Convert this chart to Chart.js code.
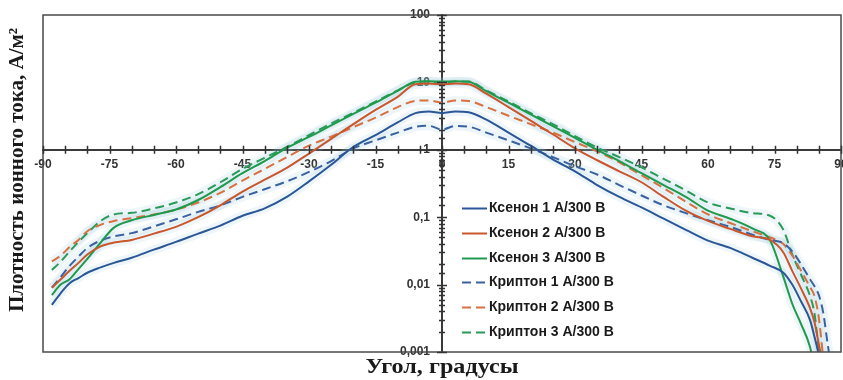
<!DOCTYPE html>
<html>
<head>
<meta charset="utf-8">
<script src="https://cdn.jsdelivr.net/npm/chart.js@4.4.1/dist/chart.umd.min.js"></script>
<style>
  html, body { margin: 0; padding: 0; background: #fff; }
</style>
</head>
<body>
<canvas id="ionCurrentChart" width="843" height="380"></canvas>
<script>
const angles = [-88, -86, -84, -82, -80, -77, -74, -70, -65, -60, -55, -50, -45, -40, -35, -30, -25, -20, -15, -10, -6, -3, 0,
  3, 6, 10, 15, 20, 25, 30, 35, 40, 45, 50, 55, 60, 65, 70, 74, 77, 79, 81, 83, 84, 85, 86, 87, 88];

const xenon1 = [0.005, 0.0075, 0.0105, 0.0125, 0.015, 0.018, 0.021, 0.025, 0.033, 0.043, 0.057, 0.075, 0.105, 0.135, 0.2, 0.34, 0.6, 1.1, 1.65, 2.55, 3.5, 3.7, 3.5,
  3.7, 3.6, 2.8, 1.8, 1.15, 0.72, 0.48, 0.3, 0.2, 0.14, 0.095, 0.065, 0.045, 0.035, 0.025, 0.019, 0.015, 0.01, 0.0056, 0.003, 0.0017, 0.0009, 0.0004, null, null];
const xenon2 = [0.009, 0.012, 0.016, 0.021, 0.028, 0.037, 0.042, 0.046, 0.057, 0.072, 0.1, 0.15, 0.24, 0.36, 0.54, 0.88, 1.45, 2.4, 3.9, 6.1, 9.4, 9.6, 9.3,
  9.6, 9.4, 6.8, 4.3, 2.7, 1.7, 1.05, 0.7, 0.48, 0.33, 0.2, 0.125, 0.088, 0.067, 0.052, 0.046, 0.03, 0.016, 0.0087, 0.0045, 0.0028, 0.0013, 0.0006, null, null];
const xenon3 = [0.007, 0.01, 0.012, 0.017, 0.024, 0.042, 0.07, 0.09, 0.108, 0.13, 0.18, 0.28, 0.45, 0.68, 1.07, 1.55, 2.3, 3.4, 5.0, 7.5, 10.2, 10.4, 10.3,
  10.4, 10.2, 7.4, 5.0, 3.35, 2.25, 1.5, 1.0, 0.68, 0.45, 0.3, 0.2, 0.125, 0.095, 0.068, 0.045, 0.013, 0.0052, 0.0026, 0.0012, 0.0006, null, null, null, null];
const krypton1 = [0.009, 0.013, 0.019, 0.026, 0.035, 0.045, 0.052, 0.058, 0.073, 0.093, 0.12, 0.15, 0.2, 0.26, 0.34, 0.47, 0.68, 1.05, 1.38, 1.8, 2.2, 2.27, 2.0,
  2.25, 2.2, 1.8, 1.38, 1.05, 0.78, 0.57, 0.43, 0.3, 0.21, 0.15, 0.115, 0.09, 0.072, 0.055, 0.046, 0.041, 0.031, 0.02, 0.012, 0.0095, 0.007, 0.0038, 0.0013, 0.0005];
const krypton2 = [0.022, 0.027, 0.036, 0.046, 0.062, 0.077, 0.088, 0.097, 0.11, 0.13, 0.165, 0.23, 0.35, 0.52, 0.78, 1.15, 1.57, 2.17, 3.0, 4.3, 5.3, 5.4, 5.0,
  5.4, 5.3, 4.3, 3.2, 2.4, 1.8, 1.3, 0.95, 0.65, 0.42, 0.27, 0.17, 0.11, 0.082, 0.062, 0.05, 0.04, 0.027, 0.016, 0.0092, 0.0068, 0.0032, 0.0008, null, null];
const krypton3 = [0.0165, 0.022, 0.031, 0.043, 0.058, 0.088, 0.11, 0.116, 0.135, 0.165, 0.22, 0.33, 0.52, 0.76, 1.1, 1.65, 2.45, 3.55, 5.2, 7.6, 10.0, 10.3, 10.0,
  10.3, 10.3, 7.6, 5.2, 3.5, 2.4, 1.6, 1.08, 0.78, 0.55, 0.37, 0.25, 0.165, 0.135, 0.115, 0.105, 0.065, 0.028, 0.014, 0.0068, 0.0038, 0.0011, 0.0005, null, null];

const seriesLabels = ['Ксенон 1 А/300 В', 'Ксенон 2 А/300 В', 'Ксенон 3 А/300 В',
  'Криптон 1 А/300 В', 'Криптон 2 А/300 В', 'Криптон 3 А/300 В'];
const xTickLabels = [-90, -75, -60, -45, -30, -15, 0, 15, 30, 45, 60, 75, 90];
const yTickLabels = [0.001, 0.01, 0.1, 1, 10, 100];

const xTitle = 'Угол, градусы';
const yTitle = 'Плотность ионного тока, А/м²';

const seriesData = [xenon1, xenon2, xenon3, krypton1, krypton2, krypton3];
const seriesColors = ['#2b5797', '#c9562c', '#1f9a4c', '#3a62a0', '#d8703f', '#2a9a58'];
const dashed = [false, false, false, true, true, true];

function toPoints(values) {
  return angles.map((a, i) => ({ x: a, y: values[i] }));
}

const mainSets = seriesData.map((values, i) => ({
  label: seriesLabels[i],
  data: toPoints(values),
  borderColor: seriesColors[i],
  borderWidth: 2,
  borderDash: dashed[i] ? [9, 5] : [],
  pointRadius: 0,
  cubicInterpolationMode: 'monotone',
  spanGaps: false,
  order: 0
}));

// pale haze around the measured curves
const haloSets = seriesData.map((values) => ({
  label: '',
  data: toPoints(values),
  borderColor: 'rgba(150, 200, 220, 0.16)',
  borderWidth: 9,
  pointRadius: 0,
  cubicInterpolationMode: 'monotone',
  spanGaps: false,
  order: 5
}));

function isDecade(v) {
  const l = Math.log10(v);
  return Math.abs(l - Math.round(l)) < 1e-6;
}

const decorPlugin = {
  id: 'decor',
  afterDraw(chart) {
    const ctx = chart.ctx;
    const area = chart.chartArea;
    const xs = chart.scales.x;
    const ys = chart.scales.y;
    const x0 = xs.getPixelForValue(0);
    const y0 = ys.getPixelForValue(1);

    ctx.save();
    // frame
    ctx.strokeStyle = '#4a4a4a';
    ctx.lineWidth = 1.5;
    ctx.strokeRect(area.left, area.top, area.right - area.left, area.bottom - area.top);

    // tick marks crossing the axes
    ctx.strokeStyle = '#333';
    ctx.lineWidth = 1.5;
    ctx.beginPath();
    xs.ticks.forEach(t => {
      const px = Math.round(xs.getPixelForValue(t.value)) + 0.5;
      ctx.moveTo(px, y0 - 4);
      ctx.lineTo(px, y0 + 4);
    });
    ys.ticks.forEach(t => {
      const py = Math.round(ys.getPixelForValue(t.value)) + 0.5;
      const len = isDecade(t.value) ? 5 : 3;
      ctx.moveTo(x0 - len, py);
      ctx.lineTo(x0 + len, py);
    });
    ctx.stroke();

    // axis titles
    ctx.fillStyle = '#1a1a1a';
    ctx.font = 'bold 21px "Liberation Serif", "Times New Roman", serif';
    ctx.textAlign = 'center';
    ctx.textBaseline = 'middle';
    ctx.save();
    ctx.translate((area.left + area.right) / 2, 368);
    ctx.scale(1.15, 1);
    ctx.fillText(xTitle, 0, 0);
    ctx.restore();
    ctx.save();
    ctx.translate(18, 170);
    ctx.rotate(-Math.PI / 2);
    ctx.fillText(yTitle, 0, 0);
    ctx.restore();

    // legend
    const lx = area.left + 419;
    const ly = area.top + 193;
    ctx.font = 'bold 14px "Liberation Sans", Arial, sans-serif';
    ctx.textAlign = 'left';
    mainSets.forEach((ds, i) => {
      const y = Math.round(ly + i * 24.8) + 0.5;
      ctx.strokeStyle = ds.borderColor;
      ctx.lineWidth = 2;
      ctx.setLineDash(ds.borderDash);
      ctx.beginPath();
      ctx.moveTo(lx, y);
      ctx.lineTo(lx + 25, y);
      ctx.stroke();
      ctx.setLineDash([]);
      ctx.fillStyle = '#1a1a1a';
      ctx.fillText(ds.label, lx + 27, y);
    });
    ctx.restore();
  }
};

const ctx = document.getElementById('ionCurrentChart');
new Chart(ctx, {
  type: 'line',
  data: { datasets: mainSets.concat(haloSets) },
  options: {
    responsive: false,
    animation: false,
    devicePixelRatio: 1,
    layout: { padding: { left: 43, top: 15, right: 2, bottom: 28 } },
    plugins: {
      legend: { display: false },
      tooltip: { enabled: false }
    },
    scales: {
      x: {
        type: 'linear',
        position: { y: 1 },
        min: -90,
        max: 90,
        grid: { drawOnChartArea: false, drawTicks: false },
        border: { display: true, color: '#3a3a3a', width: 2 },
        ticks: {
          stepSize: 5,
          autoSkip: false,
          maxRotation: 0,
          padding: 8,
          color: '#333',
          font: { family: '"Liberation Sans", Arial, sans-serif', size: 12, weight: 'bold' },
          callback: v => (xTickLabels.includes(v) ? String(v) : '')
        },
        afterFit: scale => { scale.paddingLeft = 0; scale.paddingRight = 0; }
      },
      y: {
        type: 'logarithmic',
        position: { x: 0 },
        min: 0.001,
        max: 100,
        grid: { drawOnChartArea: false, drawTicks: false },
        border: { display: true, color: '#3a3a3a', width: 2 },
        ticks: {
          autoSkip: false,
          color: '#333',
          font: { family: '"Liberation Sans", Arial, sans-serif', size: 12, weight: 'bold' },
          // a centred y axis ignores ticks.padding, so keep the gap with two en spaces
          callback: v => {
            const hit = yTickLabels.find(t => Math.abs(t - v) / t < 1e-6);
            return hit === undefined ? '' : String(hit).replace('.', ',') + '\u2002\u2002';
          }
        },
        afterFit: scale => { scale.paddingTop = 0; scale.paddingBottom = 0; }
      }
    }
  },
  plugins: [decorPlugin]
});
</script>
</body>
</html>
